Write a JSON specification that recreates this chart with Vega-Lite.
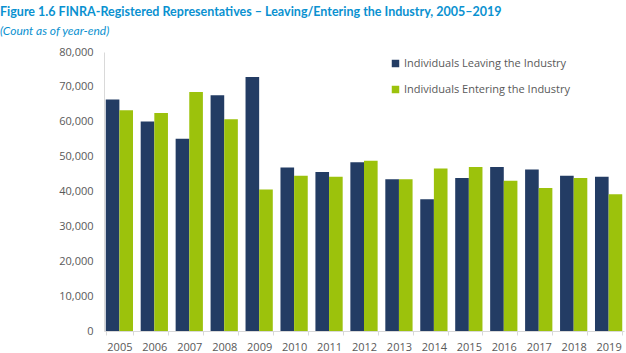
{
  "$schema": "https://vega.github.io/schema/vega-lite/v6.json",
  "width": 520,
  "height": 279,
  "autosize": {"type": "none"},
  "padding": {"left": 104, "top": 52, "right": 2, "bottom": 22},
  "background": "white",
  "title": {
    "text": "Figure 1.6 FINRA-Registered Representatives – Leaving/Entering the Industry, 2005–2019",
    "subtitle": "(Count as of year-end)",
    "anchor": "start",
    "frame": "group",
    "dx": -104,
    "offset": 9,
    "font": "Lato",
    "fontSize": 12.5,
    "fontWeight": "bold",
    "color": "#0a91d0",
    "subtitleFont": "Lato",
    "subtitleFontSize": 12,
    "subtitleFontStyle": "italic",
    "subtitleColor": "#0a91d0",
    "subtitlePadding": 8
  },
  "data": {
    "values": [
      {"year": "2005", "series": "Individuals Leaving the Industry", "count": 66400},
      {"year": "2005", "series": "Individuals Entering the Industry", "count": 63300},
      {"year": "2006", "series": "Individuals Leaving the Industry", "count": 60100},
      {"year": "2006", "series": "Individuals Entering the Industry", "count": 62500},
      {"year": "2007", "series": "Individuals Leaving the Industry", "count": 55100},
      {"year": "2007", "series": "Individuals Entering the Industry", "count": 68500},
      {"year": "2008", "series": "Individuals Leaving the Industry", "count": 67600},
      {"year": "2008", "series": "Individuals Entering the Industry", "count": 60700},
      {"year": "2009", "series": "Individuals Leaving the Industry", "count": 72800},
      {"year": "2009", "series": "Individuals Entering the Industry", "count": 40600},
      {"year": "2010", "series": "Individuals Leaving the Industry", "count": 46900},
      {"year": "2010", "series": "Individuals Entering the Industry", "count": 44500},
      {"year": "2011", "series": "Individuals Leaving the Industry", "count": 45600},
      {"year": "2011", "series": "Individuals Entering the Industry", "count": 44200},
      {"year": "2012", "series": "Individuals Leaving the Industry", "count": 48400},
      {"year": "2012", "series": "Individuals Entering the Industry", "count": 48800},
      {"year": "2013", "series": "Individuals Leaving the Industry", "count": 43500},
      {"year": "2013", "series": "Individuals Entering the Industry", "count": 43500},
      {"year": "2014", "series": "Individuals Leaving the Industry", "count": 37800},
      {"year": "2014", "series": "Individuals Entering the Industry", "count": 46600},
      {"year": "2015", "series": "Individuals Leaving the Industry", "count": 43900},
      {"year": "2015", "series": "Individuals Entering the Industry", "count": 47000},
      {"year": "2016", "series": "Individuals Leaving the Industry", "count": 47000},
      {"year": "2016", "series": "Individuals Entering the Industry", "count": 43100},
      {"year": "2017", "series": "Individuals Leaving the Industry", "count": 46300},
      {"year": "2017", "series": "Individuals Entering the Industry", "count": 41000},
      {"year": "2018", "series": "Individuals Leaving the Industry", "count": 44500},
      {"year": "2018", "series": "Individuals Entering the Industry", "count": 43900},
      {"year": "2019", "series": "Individuals Leaving the Industry", "count": 44200},
      {"year": "2019", "series": "Individuals Entering the Industry", "count": 39200}
    ]
  },
  "mark": {"type": "bar"},
  "encoding": {
    "x": {
      "field": "year",
      "type": "nominal",
      "scale": {"paddingInner": 0.22, "paddingOuter": 0.05},
      "axis": {
        "title": null,
        "labelAngle": 0,
        "labelFont": "Open Sans",
        "labelFontSize": 11,
        "labelColor": "#595959",
        "domainColor": "#d9d9d9",
        "ticks": true,
        "tickBand": "extent",
        "tickColor": "#d9d9d9",
        "tickSize": 4,
        "labelPadding": 6
      }
    },
    "xOffset": {
      "field": "series",
      "type": "nominal",
      "sort": ["Individuals Leaving the Industry", "Individuals Entering the Industry"],
      "scale": {"paddingInner": 0, "paddingOuter": 0}
    },
    "y": {
      "field": "count",
      "type": "quantitative",
      "scale": {"domain": [0, 80000], "nice": false},
      "axis": {
        "title": null,
        "values": [0, 10000, 20000, 30000, 40000, 50000, 60000, 70000, 80000],
        "format": ",d",
        "grid": false,
        "ticks": false,
        "labelPadding": 11,
        "labelFont": "Open Sans",
        "labelFontSize": 11,
        "labelColor": "#595959",
        "domainColor": "#d9d9d9"
      }
    },
    "color": {
      "field": "series",
      "type": "nominal",
      "sort": ["Individuals Leaving the Industry", "Individuals Entering the Industry"],
      "scale": {
        "domain": ["Individuals Leaving the Industry", "Individuals Entering the Industry"],
        "range": ["#233c64", "#9cc20c"]
      },
      "legend": {
        "title": null,
        "orient": "none",
        "legendX": 286,
        "legendY": 6,
        "symbolType": "square",
        "symbolSize": 56,
        "symbolStrokeWidth": 0,
        "labelFont": "Open Sans",
        "labelFontSize": 11,
        "labelColor": "#595959",
        "labelOffset": 3,
        "rowPadding": 14,
        "labelLimit": 300
      }
    }
  },
  "config": {"view": {"stroke": null}}
}
